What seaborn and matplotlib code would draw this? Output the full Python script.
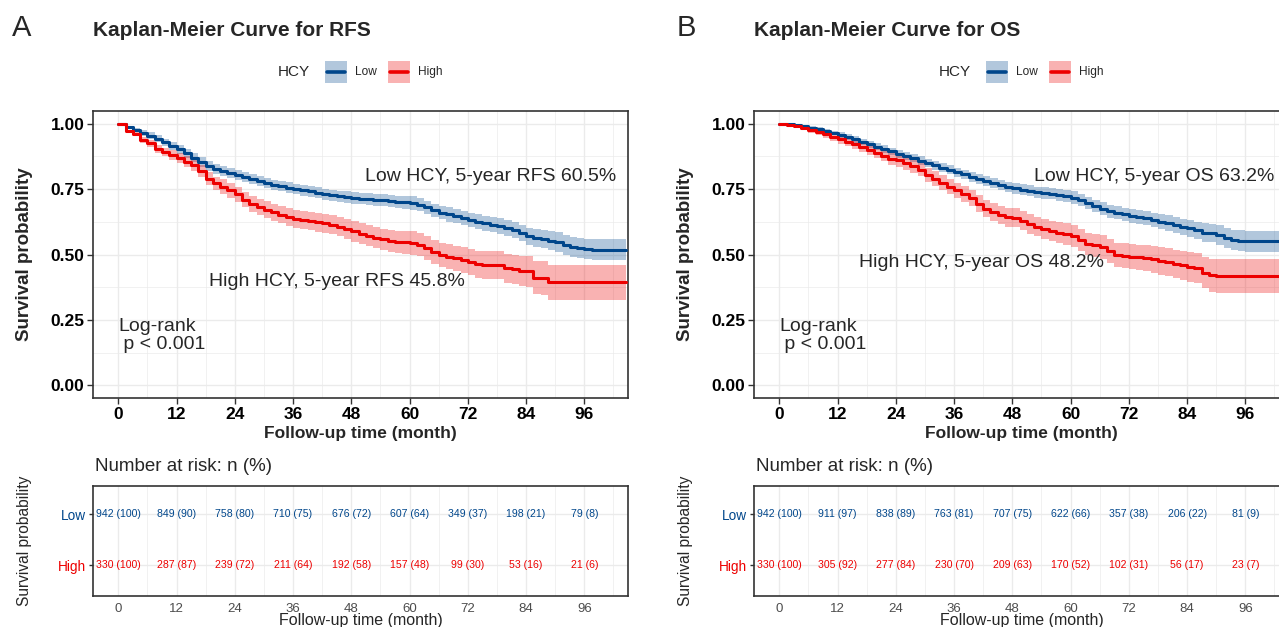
import numpy as np
import pandas as pd
import matplotlib
matplotlib.use("Agg")
import matplotlib.pyplot as plt
import seaborn as sns
from matplotlib.patches import Rectangle
from matplotlib.lines import Line2D
from matplotlib.ticker import MultipleLocator, FixedLocator

# ---------------- data ----------------
BLUE = "#00468B"
RED = "#ED0000"

months = [0, 1.5, 3, 4.5, 6, 7.5, 9, 10.5, 12, 13.5,
          15, 16.5, 18, 19.5, 21, 22.5, 24, 25.5, 27, 28.5,
          30, 31.5, 33, 34.5, 36, 37.5, 39, 40.5, 42, 43.5,
          45, 46.5, 48, 49.5, 51, 52.5, 54, 55.5, 57, 58.5,
          60, 61.5, 63, 64.5, 66, 67.5, 69, 70.5, 72, 73.5,
          75, 76.5, 78, 79.5, 81, 82.5, 84, 85.5, 87, 88.5,
          90, 91.5, 93, 94.5, 96, 97.5, 99, 100.5, 102, 104.6]

# Panel A: RFS  (survival and half-width of the 95% band)
rfs_low_s = [1.000, 0.986, 0.975, 0.965, 0.955, 0.943, 0.929, 0.916, 0.902, 0.887,
             0.870, 0.854, 0.839, 0.827, 0.818, 0.811, 0.804, 0.797, 0.790, 0.782,
             0.774, 0.766, 0.761, 0.756, 0.751, 0.746, 0.741, 0.736, 0.731, 0.726,
             0.722, 0.719, 0.716, 0.714, 0.712, 0.710, 0.707, 0.704, 0.701, 0.699,
             0.697, 0.690, 0.680, 0.669, 0.660, 0.653, 0.646, 0.639, 0.632, 0.626,
             0.620, 0.614, 0.608, 0.602, 0.594, 0.582, 0.569, 0.563, 0.558, 0.553,
             0.548, 0.538, 0.529, 0.525, 0.521, 0.518, 0.518, 0.518, 0.518, 0.518]
rfs_low_w = [0.000, 0.005, 0.008, 0.010, 0.012, 0.013, 0.014, 0.015, 0.016, 0.017,
             0.017, 0.018, 0.018, 0.018, 0.019, 0.019, 0.019, 0.019, 0.019, 0.020,
             0.020, 0.020, 0.020, 0.020, 0.020, 0.021, 0.021, 0.021, 0.021, 0.021,
             0.022, 0.022, 0.022, 0.022, 0.023, 0.023, 0.023, 0.024, 0.024, 0.024,
             0.025, 0.025, 0.026, 0.026, 0.026, 0.027, 0.027, 0.027, 0.028, 0.028,
             0.029, 0.029, 0.030, 0.030, 0.031, 0.032, 0.033, 0.034, 0.035, 0.036,
             0.037, 0.038, 0.038, 0.039, 0.040, 0.040, 0.040, 0.040, 0.040, 0.040]
rfs_high_s = [1.000, 0.972, 0.962, 0.939, 0.925, 0.905, 0.892, 0.880, 0.869, 0.855,
              0.841, 0.818, 0.790, 0.772, 0.760, 0.746, 0.730, 0.710, 0.692, 0.681,
              0.671, 0.661, 0.652, 0.643, 0.636, 0.631, 0.627, 0.623, 0.619, 0.614,
              0.607, 0.598, 0.588, 0.580, 0.572, 0.565, 0.558, 0.551, 0.549, 0.546,
              0.544, 0.538, 0.524, 0.510, 0.499, 0.492, 0.486, 0.480, 0.471, 0.462,
              0.460, 0.460, 0.460, 0.447, 0.443, 0.438, 0.436, 0.412, 0.410, 0.394,
              0.394, 0.394, 0.394, 0.394, 0.394, 0.394, 0.394, 0.394, 0.394, 0.394]
rfs_high_w = [0.000, 0.006, 0.009, 0.012, 0.013, 0.015, 0.017, 0.018, 0.020, 0.021,
              0.022, 0.023, 0.025, 0.026, 0.027, 0.028, 0.029, 0.030, 0.031, 0.031,
              0.032, 0.033, 0.033, 0.034, 0.034, 0.035, 0.035, 0.036, 0.036, 0.037,
              0.037, 0.038, 0.039, 0.039, 0.040, 0.040, 0.041, 0.042, 0.042, 0.043,
              0.044, 0.044, 0.045, 0.046, 0.046, 0.047, 0.048, 0.049, 0.050, 0.051,
              0.052, 0.053, 0.054, 0.055, 0.056, 0.057, 0.059, 0.062, 0.064, 0.067,
              0.067, 0.067, 0.067, 0.067, 0.067, 0.067, 0.067, 0.067, 0.067, 0.067]

# Panel B: OS
os_low_s = [1.000, 0.998, 0.994, 0.990, 0.985, 0.979, 0.972, 0.965, 0.957, 0.949,
            0.940, 0.931, 0.922, 0.913, 0.904, 0.895, 0.886, 0.877, 0.868, 0.859,
            0.850, 0.841, 0.832, 0.824, 0.815, 0.806, 0.797, 0.789, 0.780, 0.772,
            0.765, 0.759, 0.753, 0.748, 0.743, 0.739, 0.736, 0.733, 0.728, 0.724,
            0.718, 0.708, 0.697, 0.686, 0.675, 0.666, 0.659, 0.653, 0.648, 0.643,
            0.638, 0.632, 0.626, 0.620, 0.613, 0.606, 0.600, 0.592, 0.584, 0.582,
            0.574, 0.562, 0.555, 0.552, 0.550, 0.550, 0.550, 0.550, 0.550, 0.550]
os_low_w = [0.000, 0.002, 0.004, 0.005, 0.007, 0.008, 0.009, 0.009, 0.010, 0.011,
            0.012, 0.012, 0.013, 0.013, 0.014, 0.014, 0.015, 0.015, 0.015, 0.016,
            0.016, 0.016, 0.017, 0.017, 0.017, 0.018, 0.018, 0.018, 0.019, 0.019,
            0.020, 0.020, 0.020, 0.021, 0.021, 0.021, 0.022, 0.022, 0.022, 0.023,
            0.023, 0.024, 0.024, 0.024, 0.025, 0.025, 0.025, 0.026, 0.026, 0.027,
            0.027, 0.028, 0.029, 0.030, 0.030, 0.031, 0.032, 0.033, 0.035, 0.036,
            0.037, 0.038, 0.039, 0.040, 0.041, 0.041, 0.041, 0.041, 0.041, 0.041]
os_high_s = [1.000, 0.997, 0.991, 0.983, 0.975, 0.968, 0.960, 0.950, 0.940, 0.932,
             0.922, 0.911, 0.900, 0.889, 0.878, 0.867, 0.860, 0.849, 0.838, 0.825,
             0.805, 0.790, 0.775, 0.760, 0.745, 0.730, 0.715, 0.695, 0.675, 0.662,
             0.650, 0.642, 0.640, 0.630, 0.617, 0.607, 0.597, 0.590, 0.584, 0.579,
             0.572, 0.555, 0.540, 0.535, 0.528, 0.512, 0.498, 0.495, 0.492, 0.489,
             0.486, 0.481, 0.475, 0.470, 0.464, 0.458, 0.453, 0.449, 0.430, 0.420,
             0.417, 0.417, 0.417, 0.417, 0.417, 0.417, 0.417, 0.417, 0.417, 0.417]
os_high_w = [0.000, 0.004, 0.006, 0.008, 0.010, 0.011, 0.013, 0.014, 0.016, 0.017,
             0.018, 0.019, 0.020, 0.021, 0.022, 0.023, 0.024, 0.025, 0.026, 0.026,
             0.027, 0.028, 0.028, 0.029, 0.030, 0.031, 0.031, 0.032, 0.033, 0.034,
             0.035, 0.036, 0.036, 0.037, 0.037, 0.038, 0.039, 0.040, 0.040, 0.041,
             0.042, 0.043, 0.043, 0.044, 0.045, 0.046, 0.047, 0.048, 0.048, 0.049,
             0.050, 0.051, 0.052, 0.053, 0.054, 0.055, 0.057, 0.058, 0.060, 0.062,
             0.064, 0.064, 0.064, 0.064, 0.064, 0.064, 0.064, 0.064, 0.064, 0.064]

# Number at risk tables
risk_times = [0, 12, 24, 36, 48, 60, 72, 84, 96]
rfs_low_n = [942, 849, 758, 710, 676, 607, 349, 198, 79]
rfs_low_pct = [100, 90, 80, 75, 72, 64, 37, 21, 8]
rfs_high_n = [330, 287, 239, 211, 192, 157, 99, 53, 21]
rfs_high_pct = [100, 87, 72, 64, 58, 48, 30, 16, 6]
os_low_n = [942, 911, 838, 763, 707, 622, 357, 206, 81]
os_low_pct = [100, 97, 89, 81, 75, 66, 38, 22, 9]
os_high_n = [330, 305, 277, 230, 209, 170, 102, 56, 23]
os_high_pct = [100, 92, 84, 70, 63, 52, 31, 17, 7]

groups = ["Low", "High"]
x_ticks = [0, 12, 24, 36, 48, 60, 72, 84, 96]
y_ticks = [0.00, 0.25, 0.50, 0.75, 1.00]
y_tick_labels = ["0.00", "0.25", "0.50", "0.75", "1.00"]

for arr in (rfs_low_s, rfs_low_w, rfs_high_s, rfs_high_w, os_low_s, os_low_w, os_high_s, os_high_w):
    assert len(arr) == len(months)

# ---------------- style ----------------
sns.set_theme(style="white")
plt.rcParams["font.family"] = ["Liberation Sans", "DejaVu Sans"]

W, H = 1279, 627
fig = plt.figure(figsize=(W / 100, H / 100), dpi=100)

GRID = "#EBEBEB"
SPINE = "#333333"


def add_ax(left, top, right, bottom):
    return fig.add_axes([left / W, 1 - bottom / H, (right - left) / W, (bottom - top) / H])


def km_panel(ax, curves, low_txt, low_xy, high_txt, high_xy):
    for s, w, color in curves:
        df = pd.DataFrame({"time": months, "surv": s, "hw": w})
        df["lo"] = df["surv"] - df["hw"]
        df["hi"] = (df["surv"] + df["hw"]).clip(upper=1.0)
        ax.fill_between(df["time"], df["lo"], df["hi"], step="post", color=color, alpha=0.3,
                        lw=0, zorder=2)
        sns.lineplot(data=df, x="time", y="surv", ax=ax, color=color, linewidth=2.2,
                     drawstyle="steps-post", estimator=None, sort=False, legend=False, zorder=3)
    ax.set_xlim(-5.14, 105.05)
    ax.set_ylim(-0.05, 1.05)
    ax.xaxis.set_major_locator(FixedLocator(x_ticks))
    ax.xaxis.set_minor_locator(MultipleLocator(6))
    ax.yaxis.set_major_locator(FixedLocator(y_ticks))
    ax.yaxis.set_minor_locator(MultipleLocator(0.125))
    ax.set_yticklabels(y_tick_labels)
    ax.grid(which="major", color=GRID, lw=1.0, zorder=0)
    ax.grid(which="minor", color=GRID, lw=0.5, zorder=0)
    ax.set_axisbelow(True)
    ax.tick_params(which="major", length=4, width=1, color=SPINE, labelsize=12.5, pad=2.5,
                   left=True, bottom=True)
    ax.tick_params(which="minor", length=0)
    for lab in ax.get_xticklabels() + ax.get_yticklabels():
        lab.set_fontweight("bold")
        lab.set_color("black")
    for sp in ax.spines.values():
        sp.set_color(SPINE)
        sp.set_linewidth(1.2)
    ax.set_xlabel("Follow-up time (month)", fontsize=12.5, fontweight="bold", va="center")
    ax.xaxis.set_label_coords(0.5, -0.124)
    ax.set_ylabel("Survival probability", fontsize=13.5, fontweight="bold", va="center")
    ax.yaxis.set_label_coords(-0.1277, 0.5)
    ax.text(low_xy[0], low_xy[1], low_txt, ha="center", va="center", fontsize=14, zorder=5)
    ax.text(high_xy[0], high_xy[1], high_txt, ha="center", va="center", fontsize=14, zorder=5)
    ax.text(0, 0.19, "Log-rank\n p < 0.001", ha="left", va="center", fontsize=14,
            linespacing=1.13, zorder=5)


def risk_panel(ax, low_n, low_p, high_n, high_p):
    ax.set_xlim(-5.14, 105.05)
    ax.set_ylim(0.4, 2.56)
    rows = {"Low": 2, "High": 1}
    for g, n, p, c in (("Low", low_n, low_p, BLUE), ("High", high_n, high_p, RED)):
        df = pd.DataFrame({"time": risk_times, "row": rows[g], "n": n, "pct": p})
        for _, r in df.iterrows():
            ax.text(r["time"], r["row"], f"{int(r['n'])} ({int(r['pct'])})", ha="center",
                    va="center", fontsize=7.6, color=c)
    ax.xaxis.set_major_locator(FixedLocator(x_ticks))
    ax.xaxis.set_minor_locator(MultipleLocator(6))
    ax.set_yticks([2, 1])
    ax.set_yticklabels(groups)
    ax.get_yticklabels()[0].set_color(BLUE)
    ax.get_yticklabels()[1].set_color(RED)
    ax.grid(which="major", color=GRID, lw=1.0, zorder=0)
    ax.grid(which="minor", axis="x", color=GRID, lw=0.5, zorder=0)
    ax.set_axisbelow(True)
    ax.tick_params(axis="x", which="major", length=0, labelsize=9.5, labelcolor="#4D4D4D", pad=5)
    ax.tick_params(axis="y", which="major", length=3, width=1, color=SPINE, labelsize=9.8, pad=2,
                   left=True)
    ax.tick_params(which="minor", length=0)
    for sp in ax.spines.values():
        sp.set_color(SPINE)
        sp.set_linewidth(1.2)
    ax.set_xlabel("Follow-up time (month)", fontsize=11.5, va="center")
    ax.xaxis.set_label_coords(0.5, -0.225)
    ax.set_ylabel("Survival probability", fontsize=11.2, va="center")
    ax.yaxis.set_label_coords(-0.1277, 0.5)
    ax.text(0.003, 1.17, "Number at risk: n (%)", transform=ax.transAxes, ha="left",
            va="center", fontsize=13.5)


def legend_px(x0):
    fig.text((x0 + 16) / W, 1 - 72 / H, "HCY", ha="center", va="center", fontsize=11)
    for kx, c, lab in ((x0 + 47, BLUE, "Low"), (x0 + 110, RED, "High")):
        fig.add_artist(Rectangle((kx / W, 1 - 83 / H), 22 / W, 22 / H, transform=fig.transFigure,
                                 facecolor=c, alpha=0.3, lw=0))
        fig.add_artist(Line2D([(kx + 2) / W, (kx + 20) / W], [1 - 72 / H, 1 - 72 / H],
                              transform=fig.transFigure, color=c, lw=2.6))
        fig.text((kx + 30) / W, 1 - 72 / H, lab, ha="left", va="center", fontsize=8.6)


DX = 661
# Panel A
axA = add_ax(93.3, 110.7, 628.3, 398.3)
km_panel(axA, [(rfs_low_s, rfs_low_w, BLUE), (rfs_high_s, rfs_high_w, RED)],
         "Low HCY, 5-year RFS 60.5%", (76.7, 0.80),
         "High HCY, 5-year RFS 45.8%", (45.1, 0.395))
rA = add_ax(93.3, 485.7, 628.3, 595.7)
risk_panel(rA, rfs_low_n, rfs_low_pct, rfs_high_n, rfs_high_pct)

# Panel B
axB = add_ax(93.3 + DX, 110.7, 628.3 + DX, 398.3)
km_panel(axB, [(os_low_s, os_low_w, BLUE), (os_high_s, os_high_w, RED)],
         "Low HCY, 5-year OS 63.2%", (77.2, 0.80),
         "High HCY, 5-year OS 48.2%", (41.7, 0.47))
rB = add_ax(93.3 + DX, 485.7, 628.3 + DX, 595.7)
risk_panel(rB, os_low_n, os_low_pct, os_high_n, os_high_pct)

# Panel letters, titles, legends
fig.text(22 / W, 1 - 28 / H, "A", ha="center", va="center", fontsize=21)
fig.text((22 + 664) / W, 1 - 28 / H, "B", ha="center", va="center", fontsize=21)
fig.text(93 / W, 1 - 30 / H, "Kaplan-Meier Curve for RFS", ha="left", va="center",
         fontsize=15, fontweight="bold")
fig.text((93 + DX) / W, 1 - 30 / H, "Kaplan-Meier Curve for OS", ha="left", va="center",
         fontsize=15, fontweight="bold")
legend_px(278)
legend_px(278 + DX)

fig.savefig("out.png", dpi=100, facecolor="white")
